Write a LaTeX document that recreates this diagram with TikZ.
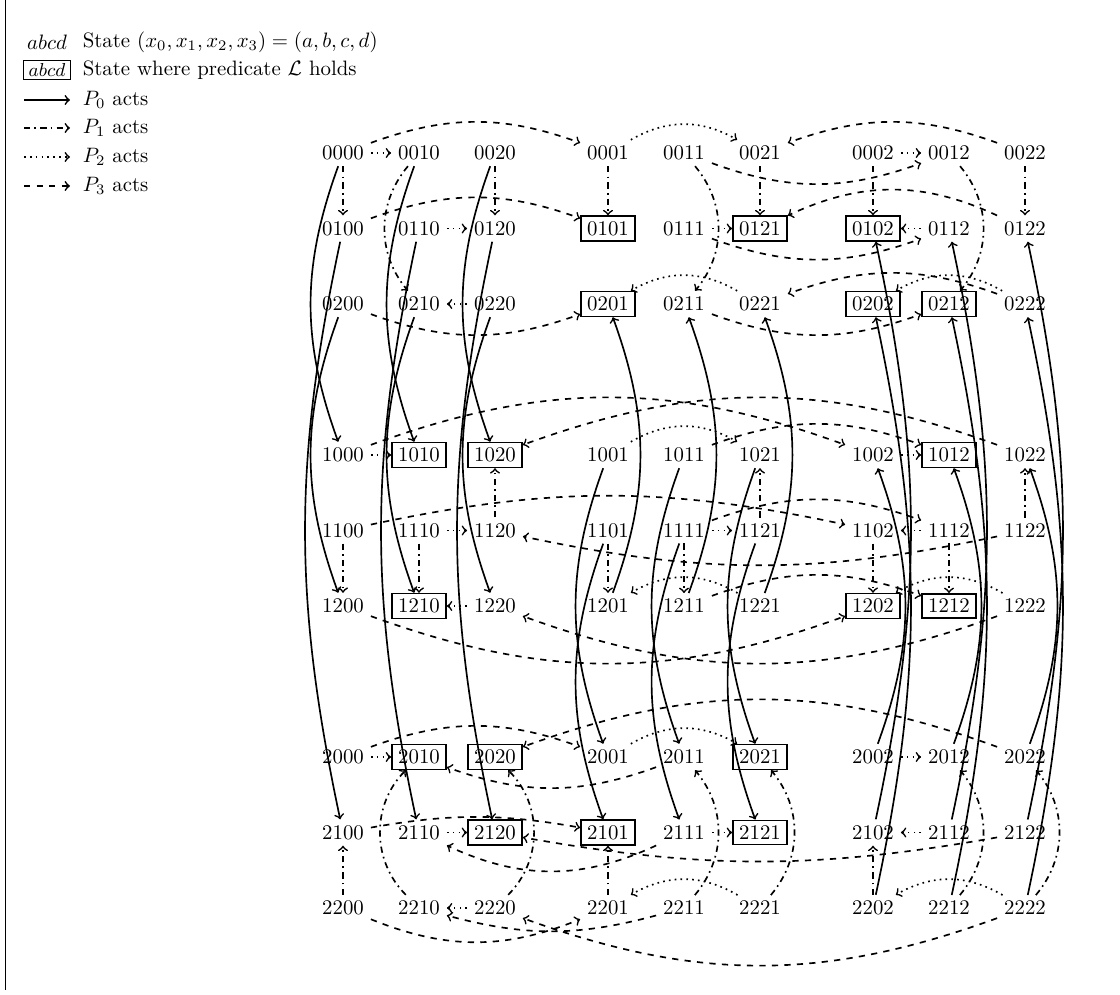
\documentclass[tikz,border=0pt]{standalone}
\usepackage{amsmath}
\usepackage{amssymb}
\usepackage{tikz}

\begin{document}
\begin{tikzpicture}[x=0.48pt, y=0.48pt, thick,
		plain/.style={inner xsep=3pt, inner ysep=2.5pt},
		goal/.style={draw, inner xsep=3pt, inner ysep=2.5pt},
		act0/.style={->},
		act1/.style={->, dash dot},
		act2/.style={->, dotted},
		act3/.style={->, dashed}]
		
		\useasboundingbox (0,0) rectangle (1120,-995);
		\draw[thin] (5,0) -- (5,-990);
		
		% Legend
		\node (key) at (47,-42) {$abcd$};
		\node[anchor=west] (keytxt) at (75,-42) {State $(x_0,x_1,x_2,x_3)=(a,b,c,d)$};
		\node[draw, semithick, inner xsep=2.5pt, inner ysep=1.5pt] (goalkey) at (47,-70) {\small $abcd$};
		\node[anchor=west] (goaltxt) at (75,-70) {State where predicate $\mathcal{L}$ holds};
		\coordinate (k0a) at (24,-100); \coordinate (k0b) at (70,-100);
		\coordinate (k1a) at (24,-128); \coordinate (k1b) at (70,-128);
		\coordinate (k2a) at (24,-157); \coordinate (k2b) at (70,-157);
		\coordinate (k3a) at (24,-186); \coordinate (k3b) at (70,-186);
		\draw[act0] (k0a) -- (k0b);
		\draw[act1] (k1a) -- (k1b);
		\draw[act2] (k2a) -- (k2b);
		\draw[act3] (k3a) -- (k3b);
		\node[anchor=west] (k0txt) at (75,-100) {$P_0$ acts};
		\node[anchor=west] (k1txt) at (75,-128) {$P_1$ acts};
		\node[anchor=west] (k2txt) at (75,-157) {$P_2$ acts};
		\node[anchor=west] (k3txt) at (75,-186) {$P_3$ acts};
		
		% States x0 x1 x2 x3
		\foreach \a in {0,1,2}{
			\foreach \b in {0,1,2}{
				\foreach \c in {0,1,2}{
					\foreach \d in {0,1,2}{
						\pgfmathsetmacro{\px}{343+265*\d+76*\c}
						\pgfmathsetmacro{\py}{-153-302*\a-75.5*\b}
						\pgfmathtruncatemacro{\ok}{(\a!=\b)*(\b!=\c)*(\c!=\d)*(\d!=\a)}
						\ifnum\ok=1
						\node[goal] (s\a\b\c\d) at (\px,\py) {\a\b\c\d};
						\else
						\node[plain] (s\a\b\c\d) at (\px,\py) {\a\b\c\d};
						\fi
					}
				}
			}
		}
		
		% P0 acts
		\draw[act0] (s0000) to[bend right=20] (s1000);
		\draw[act0] (s0010) to[bend right=20] (s1010);
		\draw[act0] (s0020) to[bend right=20] (s1020);
		\draw[act0] (s0100) to[bend right=12] (s2100);
		\draw[act0] (s0110) to[bend right=12] (s2110);
		\draw[act0] (s0120) to[bend right=12] (s2120);
		\draw[act0] (s0200) to[bend right=20] (s1200);
		\draw[act0] (s0210) to[bend right=20] (s1210);
		\draw[act0] (s0220) to[bend right=20] (s1220);
		\draw[act0] (s1001) to[bend right=20] (s2001);
		\draw[act0] (s1011) to[bend right=20] (s2011);
		\draw[act0] (s1021) to[bend right=20] (s2021);
		\draw[act0] (s1101) to[bend right=20] (s2101);
		\draw[act0] (s1111) to[bend right=20] (s2111);
		\draw[act0] (s1121) to[bend right=20] (s2121);
		\draw[act0] (s1201) to[bend right=20] (s0201);
		\draw[act0] (s1211) to[bend right=20] (s0211);
		\draw[act0] (s1221) to[bend right=20] (s0221);
		\draw[act0] (s2002) to[bend right=20] (s1002);
		\draw[act0] (s2012) to[bend right=20] (s1012);
		\draw[act0] (s2022) to[bend right=20] (s1022);
		\draw[act0] (s2102) to[bend right=12] (s0102);
		\draw[act0] (s2112) to[bend right=12] (s0112);
		\draw[act0] (s2122) to[bend right=12] (s0122);
		\draw[act0] (s2202) to[bend right=12] (s0202);
		\draw[act0] (s2212) to[bend right=12] (s0212);
		\draw[act0] (s2222) to[bend right=12] (s0222);
		
		% P1 acts
		\draw[act1] (s0000) -- (s0100);
		\draw[act1] (s0010) to[bend right=40] (s0210);
		\draw[act1] (s0020) -- (s0120);
		\draw[act1] (s0001) -- (s0101);
		\draw[act1] (s0011) to[bend left=40] (s0211);
		\draw[act1] (s0021) -- (s0121);
		\draw[act1] (s0002) -- (s0102);
		\draw[act1] (s0012) to[bend left=40] (s0212);
		\draw[act1] (s0022) -- (s0122);
		\draw[act1] (s1100) -- (s1200);
		\draw[act1] (s1110) -- (s1210);
		\draw[act1] (s1120) -- (s1020);
		\draw[act1] (s1101) -- (s1201);
		\draw[act1] (s1111) -- (s1211);
		\draw[act1] (s1121) -- (s1021);
		\draw[act1] (s1102) -- (s1202);
		\draw[act1] (s1112) -- (s1212);
		\draw[act1] (s1122) -- (s1022);
		\draw[act1] (s2200) -- (s2100);
		\draw[act1] (s2210) to[bend left=45] (s2010);
		\draw[act1] (s2220) to[bend right=45] (s2020);
		\draw[act1] (s2201) -- (s2101);
		\draw[act1] (s2211) to[bend right=40] (s2011);
		\draw[act1] (s2221) to[bend right=40] (s2021);
		\draw[act1] (s2202) -- (s2102);
		\draw[act1] (s2212) to[bend right=40] (s2012);
		\draw[act1] (s2222) to[bend right=40] (s2022);
		
		% P2 acts
		\draw[act2] (s0000) -- (s0010);
		\draw[act2] (s0110) -- (s0120);
		\draw[act2] (s0220) -- (s0210);
		\draw[act2] (s0001) to[bend left=30] (s0021);
		\draw[act2] (s0111) -- (s0121);
		\draw[act2] (s0221) to[bend right=30] (s0201);
		\draw[act2] (s0002) -- (s0012);
		\draw[act2] (s0112) -- (s0102);
		\draw[act2] (s0222) to[bend right=30] (s0202);
		\draw[act2] (s1000) -- (s1010);
		\draw[act2] (s1110) -- (s1120);
		\draw[act2] (s1220) -- (s1210);
		\draw[act2] (s1001) to[bend left=30] (s1021);
		\draw[act2] (s1111) -- (s1121);
		\draw[act2] (s1221) to[bend right=30] (s1201);
		\draw[act2] (s1002) -- (s1012);
		\draw[act2] (s1112) -- (s1102);
		\draw[act2] (s1222) to[bend right=30] (s1202);
		\draw[act2] (s2000) -- (s2010);
		\draw[act2] (s2110) -- (s2120);
		\draw[act2] (s2220) -- (s2210);
		\draw[act2] (s2001) to[bend left=30] (s2021);
		\draw[act2] (s2111) -- (s2121);
		\draw[act2] (s2221) to[bend right=30] (s2201);
		\draw[act2] (s2002) -- (s2012);
		\draw[act2] (s2112) -- (s2102);
		\draw[act2] (s2222) to[bend right=30] (s2202);
		
		% P3 acts
		\draw[act3] (s0000) to[bend left=20] (s0001);
		\draw[act3] (s0011) to[bend right=20] (s0012);
		\draw[act3] (s0022) to[bend right=20] (s0021);
		\draw[act3] (s0100) to[bend left=20] (s0101);
		\draw[act3] (s0111) to[bend right=20] (s0112);
		\draw[act3] (s0122) to[bend right=25] (s0121);
		\draw[act3] (s0200) to[bend right=20] (s0201);
		\draw[act3] (s0211) to[bend right=20] (s0212);
		\draw[act3] (s0222) to[bend right=20] (s0221);
		\draw[act3] (s1000) to[bend left=20] (s1002);
		\draw[act3] (s1011) to[bend left=20] (s1012);
		\draw[act3] (s1022) to[bend right=20] (s1020);
		\draw[act3] (s1100) to[bend left=12] (s1102);
		\draw[act3] (s1111) to[bend left=20] (s1112);
		\draw[act3] (s1122) to[bend left=12] (s1120);
		\draw[act3] (s1200) to[bend right=20] (s1202);
		\draw[act3] (s1211) to[bend left=20] (s1212);
		\draw[act3] (s1222) to[bend left=20] (s1220);
		\draw[act3] (s2000) to[bend left=20] (s2001);
		\draw[act3] (s2011) to[bend left=20] (s2010);
		\draw[act3] (s2022) to[bend right=20] (s2020);
		\draw[act3] (s2100) to[bend left=10] (s2101);
		\draw[act3] (s2111) to[bend left=25] (s2110);
		\draw[act3] (s2122) to[bend left=10] (s2120);
		\draw[act3] (s2200) to[bend right=22] (s2201);
		\draw[act3] (s2211) to[bend left=15] (s2210);
		\draw[act3] (s2222) to[bend left=20] (s2220);
		
	\end{tikzpicture}
\end{document}
